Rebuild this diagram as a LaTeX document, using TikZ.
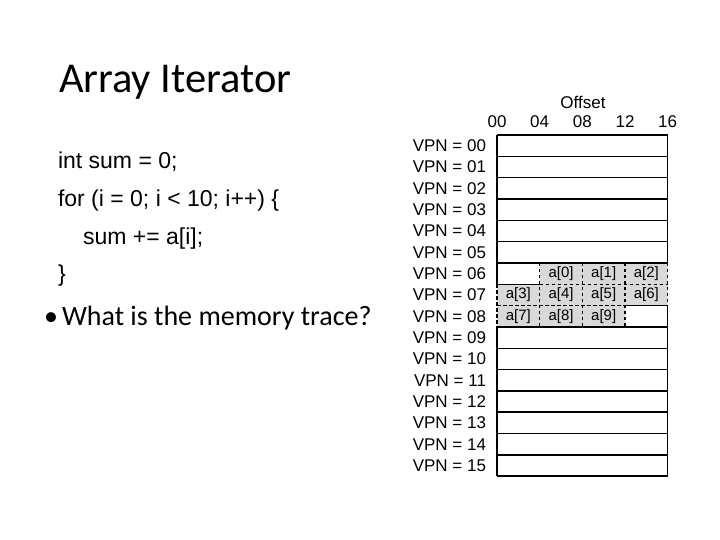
\documentclass[tikz,border=0pt]{standalone}
\usepackage{fontspec}
\setmainfont{Carlito}
\newfontfamily\arialf{Liberation Sans}
\begin{document}
\begin{tikzpicture}[x=1pt,y=-1pt,
  txt/.style={inner sep=0pt,outer sep=0pt},
  solidln/.style={line width=1.6pt,black},
  dashln/.style={line width=1.1pt,black,dash pattern=on 3.5pt off 2.5pt},
  cellfill/.style={fill=gray!30},
  vpn/.style={txt,anchor=east,font=\arialf\fontsize{17}{20}\selectfont},
  hdr/.style={txt,anchor=base,font=\arialf\fontsize{17}{20}\selectfont},
  cell/.style={txt,font=\arialf\fontsize{15}{18}\selectfont},
  code/.style={txt,anchor=base west,font=\arialf\fontsize{23}{27}\selectfont}]
\useasboundingbox (0,0) rectangle (720,540);

% Title and text
\node[txt,anchor=base west,font=\fontsize{42.5}{50}\selectfont] (title) at (59,93) {Array Iterator};
\node[code] (c1) at (58,169) {int sum = 0;};
\node[code] (c2) at (58,206.5) {for (i = 0; i < 10; i++) \{};
\node[code] (c3) at (83,244) {sum += a[i];};
\node[code] (c4) at (58,281.5) {\}};
\node[txt,anchor=base west,font=\fontsize{28}{32}\selectfont] (bul) at (44,325) {•};
\node[txt,anchor=base west,font=\fontsize{28}{32}\selectfont] (q) at (62,325) {What is the memory trace?};

% grid coordinates
\foreach \i in {0,...,16}
  \foreach \j in {0,...,4}
    \coordinate (g\i-\j) at ({497+42.67*\j},{135+21.33*\i});

% gray area
\fill[cellfill] (g6-1) -- (g6-4) -- (g8-4) -- (g8-3) -- (g9-3) -- (g9-0) -- (g7-0) -- (g7-1) -- cycle;

% dashed lines
\draw[dashln] (g7-0) -- (g9-0);
\draw[dashln] (g6-4) -- (g8-4);
\draw[dashln] (g7-1) -- (g7-4);
\draw[dashln] (g8-0) -- (g8-3);
\foreach \j in {1,2,3} \draw[dashln] (g6-\j) -- (g9-\j);

% solid lines
\draw[solidln] (g0-0) -- (g7-0);
\draw[solidln] (g9-0) -- (g16-0);
\draw[solidln] (g0-4) -- (g6-4);
\draw[solidln] (g8-4) -- (g16-4);
\foreach \i in {0,...,6} \draw[solidln] (g\i-0) -- (g\i-4);
\foreach \i in {9,...,16} \draw[solidln] (g\i-0) -- (g\i-4);
\draw[solidln] (g7-0) -- (g7-1);
\draw[solidln] (g8-3) -- (g8-4);

% VPN labels
\foreach \i/\l in {0/00,1/01,2/02,3/03,4/04,5/05,6/06,7/07,8/08,9/09,10/10,11/11,12/12,13/13,14/14,15/15}
  \node[vpn] (vpn\i) at (486,{135+21.33*(\i+0.5)}) {VPN = \l};

% headers
\node[hdr] (offset) at (583,109) {Offset};
\foreach \j/\l in {0/00,1/04,2/08,3/12,4/16}
  \node[hdr] (h\j) at ({497+42.67*\j},127.5) {\l};

% cell labels
\foreach \i/\j/\k in {6/1/0,6/2/1,6/3/2,7/0/3,7/1/4,7/2/5,7/3/6,8/0/7,8/1/8,8/2/9}
  \node[cell] (a\k) at ({497+42.67*(\j+0.5)},{135+21.33*(\i+0.5)}) {a[\k]};
\end{tikzpicture}
\end{document}
